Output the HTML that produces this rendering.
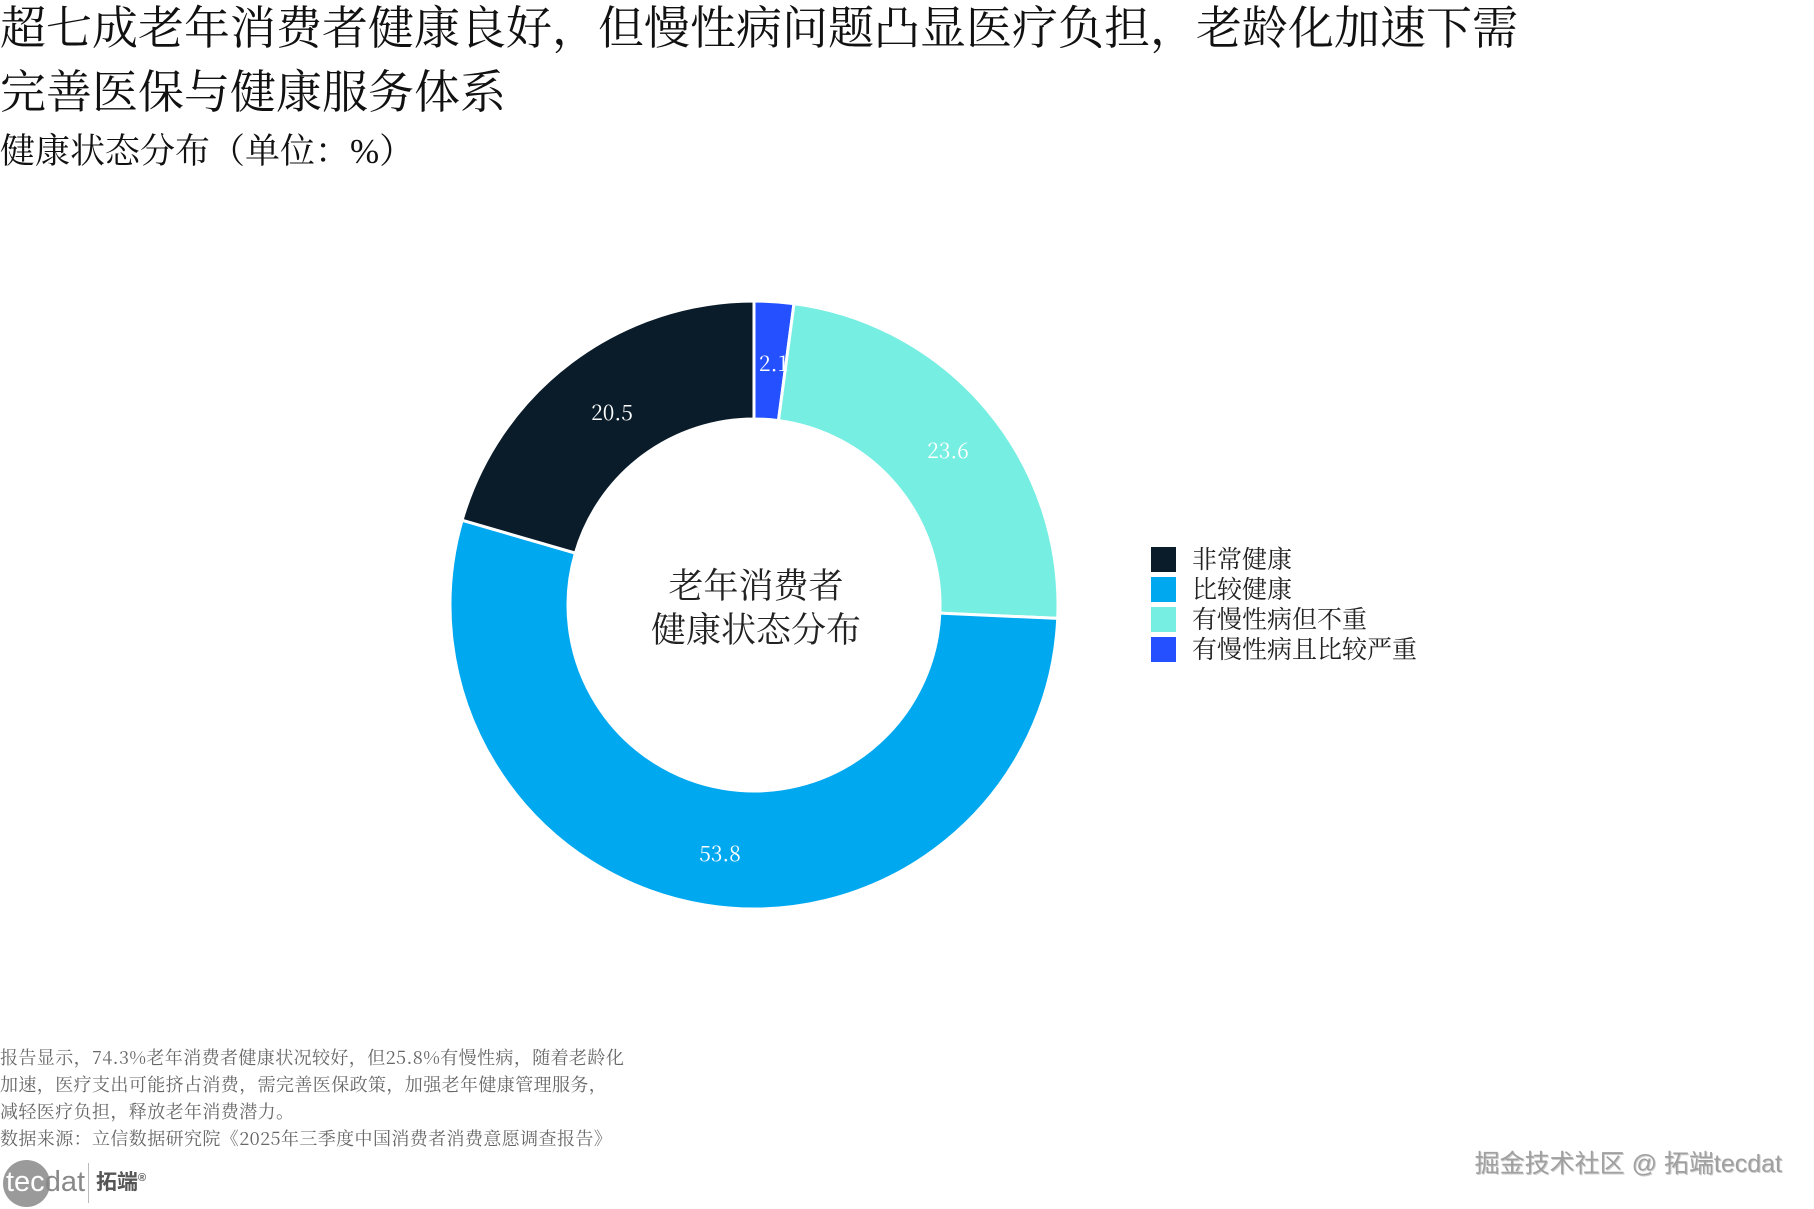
<!DOCTYPE html>
<html><head><meta charset="utf-8"><style>
html,body{margin:0;padding:0;background:#fff;}
body{width:1814px;height:1209px;position:relative;overflow:hidden;font-family:"Liberation Serif","Noto Serif CJK SC",serif;}
.t{position:absolute;white-space:nowrap;line-height:1;}
</style></head><body>
<div class="t" style="left:0;top:6px;font-size:46px;color:#111;">超七成老年消费者健康良好，但慢性病问题凸显医疗负担，老龄化加速下需</div>
<div class="t" style="left:0;top:70px;font-size:46px;color:#111;">完善医保与健康服务体系</div>
<div class="t" style="left:0;top:134px;font-size:35px;color:#111;">健康状态分布（单位：%）</div>

<svg width="1814" height="1209" style="position:absolute;left:0;top:0;" xmlns="http://www.w3.org/2000/svg">
<g id="donut" stroke="#fff" stroke-width="3"></g>
<g font-family="Noto Serif CJK SC, Liberation Serif, serif" font-size="21" fill="#fff" text-anchor="middle">
<text x="612" y="420">20.5</text>
<text x="948" y="458">23.6</text>
<text x="720" y="861">53.8</text>
<text x="774" y="371">2.1</text>
</g>
<g font-family="Liberation Serif, Noto Serif CJK SC, serif" font-size="35" fill="#222" text-anchor="middle">
<text x="756" y="598">老年消费者</text>
<text x="756" y="642">健康状态分布</text>
</g>
<g font-family="Liberation Serif, Noto Serif CJK SC, serif" font-size="25" fill="#222">
<rect x="1151" y="547" width="25" height="25" fill="#0a1c2a"/><text x="1192" y="568">非常健康</text>
<rect x="1151" y="577" width="25" height="25" fill="#00a8f0"/><text x="1192" y="598">比较健康</text>
<rect x="1151" y="607" width="25" height="25" fill="#77eee2"/><text x="1192" y="628">有慢性病但不重</text>
<rect x="1151" y="637" width="25" height="25" fill="#2450ff"/><text x="1192" y="658">有慢性病且比较严重</text>
</g>
</svg>

<div class="t" style="left:0;top:1044px;font-family:'Noto Serif CJK SC','Liberation Serif',serif;font-size:18px;letter-spacing:0.4px;color:#666;line-height:27px;">报告显示，74.3%老年消费者健康状况较好，但25.8%有慢性病，随着老龄化<br>加速，医疗支出可能挤占消费，需完善医保政策，加强老年健康管理服务，<br>减轻医疗负担，释放老年消费潜力。<br>数据来源：立信数据研究院《2025年三季度中国消费者消费意愿调查报告》</div>

<div style="position:absolute;left:3px;top:1160px;width:47px;height:47px;border-radius:50%;background:#9a9a9a;"></div>
<div class="t" style="left:6px;top:1168px;font-family:'Liberation Sans',sans-serif;font-size:29px;color:#fff;">tec<span style="color:#888">dat</span></div>
<div style="position:absolute;left:88px;top:1163px;width:1px;height:40px;background:#bbb;"></div>
<div class="t" style="left:96px;top:1172px;font-family:'Liberation Sans','Noto Sans CJK SC',sans-serif;font-size:21px;font-weight:bold;color:#555;">拓端<sup style="font-size:11px">®</sup></div>

<div class="t" style="right:32px;top:1152px;font-family:'Liberation Sans','Noto Sans CJK SC',sans-serif;font-size:25px;font-weight:normal;color:#a0a0a0;text-shadow:1px 1px 0 #ccc;">掘金技术社区 @ 拓端tecdat</div>

<script>
(function(){
var cx=754,cy=605,R=304,r=186;
var data=[[2.1,"#2450ff"],[23.6,"#77eee2"],[53.8,"#00a8f0"],[20.5,"#0a1c2a"]];
var g=document.getElementById("donut"),a=0,ns="http://www.w3.org/2000/svg";
data.forEach(function(d){
 var a0=a/100*2*Math.PI, a1=(a+d[0])/100*2*Math.PI; a+=d[0];
 function p(rad,ang){return [cx+rad*Math.sin(ang),cy-rad*Math.cos(ang)];}
 var large=(a1-a0)>Math.PI?1:0;
 var o0=p(R,a0),o1=p(R,a1),i1=p(r,a1),i0=p(r,a0);
 var path=document.createElementNS(ns,"path");
 path.setAttribute("d","M"+o0+" A"+R+","+R+" 0 "+large+" 1 "+o1+" L"+i1+" A"+r+","+r+" 0 "+large+" 0 "+i0+" Z");
 path.setAttribute("fill",d[1]);
 g.appendChild(path);
});
})();
</script>
</body></html>
